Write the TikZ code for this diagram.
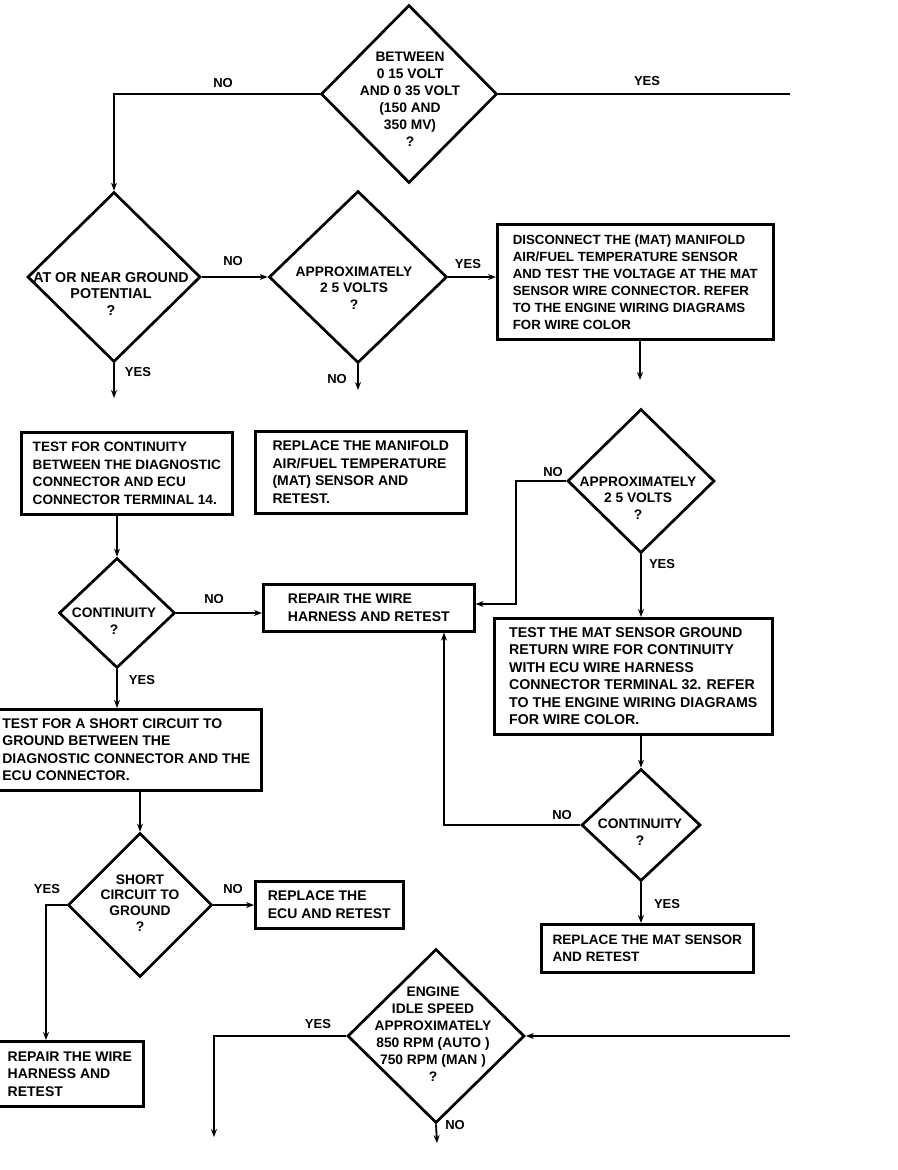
\documentclass[tikz,border=0pt]{standalone}
\usepackage{fontspec}
\setmainfont{Liberation Sans}
\usetikzlibrary{shapes.geometric,arrows.meta}
\begin{document}
\begin{tikzpicture}[x=1pt,y=-1pt,
  box/.style={draw, line width=2.6pt, anchor=north west, align=left, inner xsep=0pt, inner ysep=0pt,
    font=\bfseries\fontsize{14}{17.5}\selectfont},
  dia/.style={draw, diamond, line width=2.7pt, inner sep=0pt},
  dtxt/.style={align=center, inner sep=0pt, font=\bfseries\fontsize{13.8}{16.5}\selectfont},
  lbl/.style={inner sep=0pt, font=\bfseries\fontsize{13}{15}\selectfont},
  conn/.style={line width=1.8pt},
  arr/.style={conn, -{Stealth[length=8pt,width=6pt]}},
]
\useasboundingbox (0,0) rectangle (897,1170);

% ---------- diamonds ----------
\node[dia, minimum width=176pt, minimum height=178pt] (d1) at (409,94) {};
\node[dtxt, font=\bfseries\fontsize{13.8}{17}\selectfont] (t1) at (410,99) {BETWEEN\\0 15 VOLT\\AND 0 35 VOLT\\(150 AND\\350 MV)\\?};

\node[dia, minimum width=173pt, minimum height=170pt] (d2) at (114,277) {};
\node[dtxt, font=\bfseries\fontsize{14.3}{16.5}\selectfont] (t2) at (111,294) {AT OR NEAR GROUND\\POTENTIAL\\?};

\node[dia, minimum width=178pt, minimum height=172pt] (d3) at (358,277) {};
\node[dtxt] (t3) at (354,288) {APPROXIMATELY\\2 5 VOLTS\\?};

\node[dia, minimum width=116pt, minimum height=110pt] (d4) at (117,613) {};
\node[dtxt] (t4) at (114,621) {CONTINUITY\\?};

\node[dia, minimum width=147pt, minimum height=144pt] (d5) at (641,481) {};
\node[dtxt] (t5) at (638,498) {APPROXIMATELY\\2 5 VOLTS\\?};

\node[dia, minimum width=119pt, minimum height=112pt] (d6) at (641,825) {};
\node[dtxt] (t6) at (640,832) {CONTINUITY\\?};

\node[dia, minimum width=144pt, minimum height=144pt] (d7) at (140,905) {};
\node[dtxt, font=\bfseries\fontsize{13.8}{15.7}\selectfont] (t7) at (140,903) {SHORT\\CIRCUIT TO\\GROUND\\?};

\node[dia, minimum width=177pt, minimum height=174pt] (d8) at (436,1036) {};
\node[dtxt, font=\bfseries\fontsize{13.8}{17}\selectfont] (t8) at (433,1034) {ENGINE\\IDLE SPEED\\APPROXIMATELY\\850 RPM (AUTO )\\750 RPM (MAN )\\?};

% ---------- boxes ----------
\node[box, minimum width=276pt, minimum height=115pt, font=\bfseries\fontsize{13.3}{17}\selectfont] (b1) at (496,223)
  {DISCONNECT THE (MAT) MANIFOLD\\AIR/FUEL TEMPERATURE SENSOR\\AND TEST THE VOLTAGE AT THE MAT\\SENSOR WIRE CONNECTOR. REFER\\TO THE ENGINE WIRING DIAGRAMS\\FOR WIRE COLOR};
\node[box, minimum width=211pt, minimum height=82pt, font=\bfseries\fontsize{13.6}{17.5}\selectfont] (b2) at (20,431)
  {TEST FOR CONTINUITY\\BETWEEN THE DIAGNOSTIC\\CONNECTOR AND ECU\\CONNECTOR TERMINAL 14.};
\node[box, minimum width=211pt, minimum height=82pt] (b3) at (254,430)
  {REPLACE THE MANIFOLD\\AIR/FUEL TEMPERATURE\\(MAT) SENSOR AND\\RETEST.};
\node[box, minimum width=211pt, minimum height=47pt] (b4) at (262,583)
  {REPAIR THE WIRE\\HARNESS AND RETEST};
\node[box, minimum width=270pt, minimum height=81pt] (b5) at (-10,708)
  {TEST FOR A SHORT CIRCUIT TO\\GROUND BETWEEN THE\\DIAGNOSTIC CONNECTOR AND THE\\ECU CONNECTOR.};
\node[box, minimum width=278pt, minimum height=116pt, font=\bfseries\fontsize{14.2}{17.5}\selectfont] (b6) at (493,617)
  {TEST THE MAT SENSOR GROUND\\RETURN WIRE FOR CONTINUITY\\WITH ECU WIRE HARNESS\\CONNECTOR TERMINAL 32. REFER\\TO THE ENGINE WIRING DIAGRAMS\\FOR WIRE COLOR.};
\node[box, minimum width=212pt, minimum height=48pt, font=\bfseries\fontsize{13.6}{17.5}\selectfont] (b7) at (540,923)
  {REPLACE THE MAT SENSOR\\AND RETEST};
\node[box, minimum width=148pt, minimum height=47pt] (b8) at (254,880)
  {REPLACE THE\\ECU AND RETEST};
\node[box, minimum width=147pt, minimum height=65pt] (b9) at (-5,1040)
  {REPAIR THE WIRE\\HARNESS AND\\RETEST};

% ---------- free ends ----------
\coordinate (e1) at (790,94);
\coordinate (e2) at (640,380);
\coordinate (e3) at (114,398);
\coordinate (e4) at (358,390);
\coordinate (k1) at (516,604);
\coordinate (k2) at (444,0);
\coordinate (k3) at (46,0);
\coordinate (e5) at (790,1036);
\coordinate (e6) at (214,1137);
\coordinate (e7) at (437,1143);

% ---------- connectors ----------
\draw[arr] (d1.west) -| (d2.north);
\draw[conn] (d1.east) -- (e1);
\draw[arr] (d2.east) -- (d3.west);
\draw[arr] (d3.east) -- (d3.east -| b1.west);
\draw[arr] (e2 |- b1.south) -- (e2);
\draw[arr] (d2.south) -- (e3);
\draw[arr] (d3.south) -- (e4);
\draw[arr] (d4.north |- b2.south) -- (d4.north);
\draw[arr] (d4.east) -- (d4.east -| b4.west);
\draw[arr] (d4.south) -- (d4.south |- b5.north);
\draw[arr] (d5.west) -| (k1) -- (k1 -| b4.east);
\draw[arr] (d5.south) -- (d5.south |- b6.north);
\draw[arr] (d6.north |- b6.south) -- (d6.north);
\draw[arr] (d6.west) -| (k2 |- b4.south);
\draw[arr] (d6.south) -- (d6.south |- b7.north);
\draw[arr] (d7.north |- b5.south) -- (d7.north);
\draw[arr] (d7.east) -- (d7.east -| b8.west);
\draw[arr] (d7.west) -| (k3 |- b9.north);
\draw[arr] (e5) -- (d8.east);
\draw[arr] (d8.west) -| (e6);
\draw[arr] (d8.south) -- (e7);

% ---------- labels ----------
\node[lbl] (l1) at (223,83) {NO};
\node[lbl] (l2) at (647,81) {YES};
\node[lbl] (l3) at (233,261) {NO};
\node[lbl] (l4) at (138,372) {YES};
\node[lbl] (l5) at (337,379) {NO};
\node[lbl] (l6) at (468,264) {YES};
\node[lbl] (l7) at (214,599) {NO};
\node[lbl] (l8) at (142,680) {YES};
\node[lbl] (l9) at (553,472) {NO};
\node[lbl] (l10) at (662,564) {YES};
\node[lbl] (l11) at (562,815) {NO};
\node[lbl] (l12) at (667,904) {YES};
\node[lbl] (l13) at (47,889) {YES};
\node[lbl] (l14) at (233,889) {NO};
\node[lbl] (l15) at (318,1024) {YES};
\node[lbl] (l16) at (455,1125) {NO};
\end{tikzpicture}
\end{document}
